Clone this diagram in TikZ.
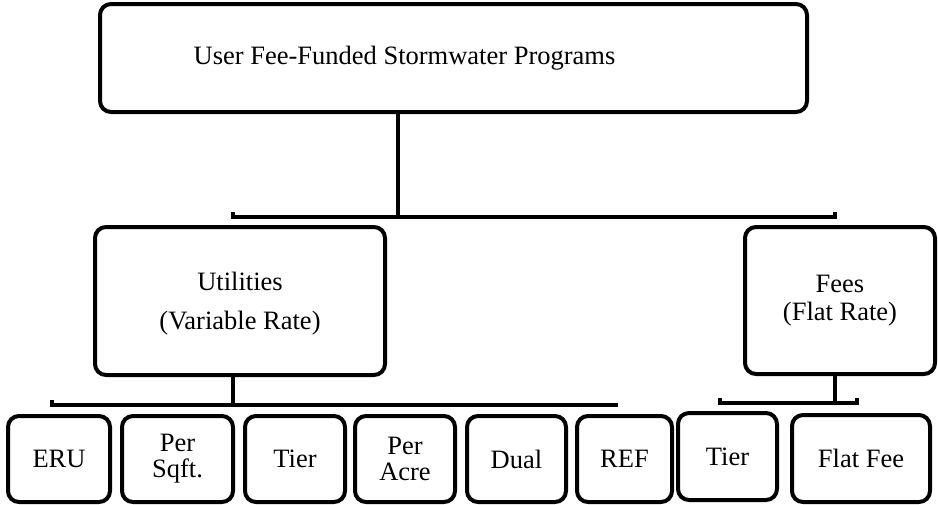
\documentclass[tikz,border=0pt]{standalone}
\usepackage{fontspec}
\setmainfont{Liberation Serif}
\begin{document}
\begin{tikzpicture}[x=1pt,y=-1pt,
  box/.style={draw=black,line width=4pt,rounded corners=11pt,inner sep=0pt,align=center,
    font=\fontsize{26.5}{28}\selectfont},
  link/.style={line width=4pt,line cap=butt,line join=miter}]
\useasboundingbox (0,0) rectangle (938,504);
% top
\node[box,minimum width=707pt,minimum height=108pt] (top) at (453.5,58) {\raisebox{-3pt}{User Fee-Funded Stormwater Programs}\hspace*{98pt}};
% middle
\node[box,minimum width=290pt,minimum height=148pt,text depth=-4pt] (util) at (240,301) {Utilities\\[11pt](Variable Rate)};
\node[box,minimum width=190pt,minimum height=147pt] (fees) at (840,300.5) {Fees\\(Flat Rate)};
% bottom
\node[box,minimum width=102pt,minimum height=86pt] (eru) at (59,459) {ERU};
\node[box,minimum width=111pt,minimum height=86pt,font=\fontsize{26.5}{26}\selectfont] (sqft) at (177.5,459) {Per\\Sqft.};
\node[box,minimum width=100pt,minimum height=86pt] (tier) at (295,459) {Tier};
\node[box,minimum width=100pt,minimum height=86pt,font=\fontsize{26.5}{26}\selectfont] (acre) at (405,459) {Per\\Acre};
\node[box,minimum width=99pt,minimum height=86pt] (dual) at (516.5,459) {Dual};
\node[box,minimum width=95pt,minimum height=86pt] (ref) at (624.5,459) {REF};
\node[box,minimum width=99pt,minimum height=87pt] (tiertwo) at (727.5,456.5) {Tier};
\node[box,minimum width=138pt,minimum height=87pt] (flat) at (861,458.5) {Flat Fee};
% connectors
\coordinate (b1) at (398,217);
\coordinate (b1l) at (233,217);
\coordinate (b1r) at (835,217);
\draw[link] (top.south -| b1) -- (b1);
\draw[link] ([yshift=5pt]b1l) -- (b1l) -- (b1r) -- ([yshift=5pt]b1r);
\coordinate (b2) at (233,405);
\coordinate (b2l) at (52,405);
\coordinate (b2r) at (618,405);
\draw[link] (util.south -| b2) -- (b2);
\draw[link] ([yshift=5pt]b2l) -- (b2l) -- (b2r);
\coordinate (b3) at (835,403);
\coordinate (b3l) at (720,403);
\coordinate (b3r) at (857,403);
\draw[link] (fees.south -| b3) -- (b3);
\draw[link] ([yshift=5pt]b3l) -- (b3l) -- (b3r) -- ([yshift=5pt]b3r);
\end{tikzpicture}
\end{document}
